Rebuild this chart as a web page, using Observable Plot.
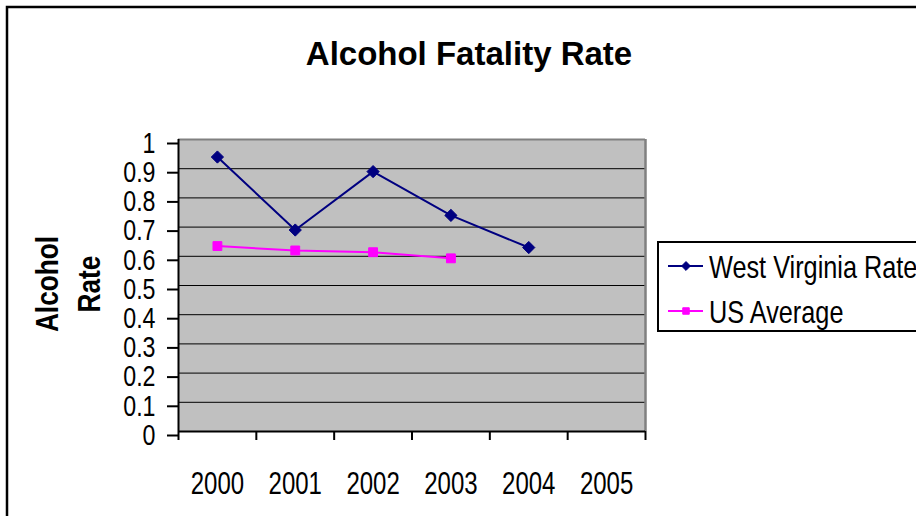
<!DOCTYPE html>
<html>
<head>
<meta charset="utf-8">
<script src="https://cdn.jsdelivr.net/npm/d3@7"></script>
<script src="https://cdn.jsdelivr.net/npm/@observablehq/plot@0.6"></script>
<style>
  html, body { margin: 0; padding: 0; background: white; }
  #chart { width: 916px; height: 516px; overflow: hidden; }
</style>
</head>
<body>
<div id="chart"></div>
<script>
// ---- data ----
const years = [2000, 2001, 2002, 2003, 2004, 2005];
const wvYears = [2000, 2001, 2002, 2003, 2004];
const wvRate = [0.94, 0.69, 0.89, 0.74, 0.63];
const usYears = [2000, 2001, 2002, 2003];
const usAverage = [0.635, 0.62, 0.614, 0.593];
const yTicks = [0, 0.1, 0.2, 0.3, 0.4, 0.5, 0.6, 0.7, 0.8, 0.9, 1];
const seriesNames = ["West Virginia Rate", "US Average"];
const seriesColors = ["#000080", "#ff00ff"];
const seriesSymbols = ["diamond2", "square"];
const titleText = "Alcohol Fatality Rate";
const yLabelLines = ["Alcohol", "Rate"];

// ---- derived tables ----
const wvData = wvYears.map((y, i) => ({year: y, value: wvRate[i]}));
const usData = usYears.map((y, i) => ({year: y, value: usAverage[i]}));
const xDomain = [years[0] - 0.5, years[years.length - 1] + 0.5];
const boundaries = [...years.map(y => y - 0.5), years[years.length - 1] + 0.5];
const gridTicks = yTicks.filter(t => t > 0 && t < 1);

const FONT = "'Liberation Sans', Arial, sans-serif";

function decorations(index, scales, values, dimensions) {
  const g = d3.create("svg:g");
  // outer chart border
  g.append("rect").attr("x", 7).attr("y", 7).attr("width", 1000).attr("height", 1000)
    .attr("fill", "none").attr("stroke", "black").attr("stroke-width", 2.5);
  // title
  g.append("text").attr("x", 469).attr("y", 65).attr("text-anchor", "middle")
    .attr("font-family", FONT).attr("font-weight", "bold").attr("font-size", 33)
    .attr("fill", "black").text(titleText);
  // y axis title
  const yPos = [58, 100];
  yLabelLines.forEach((t, i) => {
    g.append("text").attr("class", "squeeze-ylabel")
      .attr("transform", `translate(${yPos[i]},284) rotate(-90)`)
      .attr("text-anchor", "middle").attr("font-family", FONT)
      .attr("font-weight", "bold").attr("font-size", 32).attr("fill", "black").text(t);
  });
  // legend
  g.append("rect").attr("x", 658).attr("y", 242).attr("width", 300).attr("height", 89)
    .attr("fill", "white").attr("stroke", "black").attr("stroke-width", 2);
  const rowY = [266, 311];
  const symSize = [50, 42];
  const symTypes = [d3.symbolDiamond2, d3.symbolSquare];
  seriesNames.forEach((name, i) => {
    g.append("line").attr("x1", 668).attr("x2", 703).attr("y1", rowY[i]).attr("y2", rowY[i])
      .attr("stroke", seriesColors[i]).attr("stroke-width", 2);
    g.append("path").attr("d", d3.symbol(symTypes[i], symSize[i])())
      .attr("transform", `translate(686,${rowY[i]})`)
      .attr("fill", seriesColors[i]).attr("stroke", seriesColors[i]).attr("stroke-width", 1);
    g.append("text").attr("class", "squeeze-legend").attr("x", 709).attr("y", rowY[i] + 12)
      .attr("text-anchor", "start")
      .attr("font-family", FONT).attr("font-size", 32).attr("fill", "black").text(name);
  });
  return g.node();
}

const chart = Plot.plot({
  width: 916,
  height: 516,
  marginLeft: 178,
  marginRight: 271,
  marginTop: 139,
  marginBottom: 85,
  x: {type: "linear", domain: xDomain},
  y: {domain: [0, 1]},
  style: {fontFamily: FONT, fontSize: "30px", background: "white", color: "black", overflow: "hidden"},
  marks: [
    Plot.frame({fill: "#c0c0c0", stroke: null}),
    Plot.ruleY(gridTicks, {stroke: "black", strokeWidth: 1}),
    Plot.ruleY([yTicks[yTicks.length - 1]], {stroke: "#808080", strokeWidth: 2}),
    Plot.ruleX([xDomain[1]], {stroke: "#808080", strokeWidth: 2.5}),
    Plot.ruleX([xDomain[0]], {stroke: "black", strokeWidth: 2}),
    Plot.ruleY([yTicks[0]], {stroke: "black", strokeWidth: 2}),
    Plot.axisY({ticks: yTicks, tickFormat: d => String(d), tickSize: 11, tickPadding: 12,
      strokeWidth: 2, fontSize: 29, dy: 4, label: null}),
    Plot.axisX({ticks: boundaries, tickFormat: () => "", tickSize: 9, strokeWidth: 2, label: null}),
    Plot.axisX({ticks: years, tickFormat: d => String(d), tickSize: 0, tickPadding: 40,
      fontSize: 32, label: null}),
    Plot.line(wvData, {x: "year", y: "value", stroke: seriesColors[0], strokeWidth: 2}),
    Plot.line(usData, {x: "year", y: "value", stroke: seriesColors[1], strokeWidth: 2}),
    Plot.dot(wvData, {x: "year", y: "value", symbol: seriesSymbols[0], r: 5.5,
      fill: seriesColors[0], stroke: seriesColors[0], strokeWidth: 1}),
    Plot.dot(usData, {x: "year", y: "value", symbol: seriesSymbols[1], r: 5,
      fill: seriesColors[1], stroke: seriesColors[1], strokeWidth: 1}),
    decorations
  ]
});
document.getElementById("chart").appendChild(chart);

// condense text horizontally to mimic the narrow face of the original
function squeeze(selector, factor) {
  chart.querySelectorAll(selector).forEach(el => {
    const len = el.getComputedTextLength();
    if (len > 0) {
      el.setAttribute("textLength", (len * factor).toFixed(2));
      el.setAttribute("lengthAdjust", "spacingAndGlyphs");
    }
  });
}
squeeze('g[aria-label="y-axis tick label"] text', 0.8);
squeeze('g[aria-label="x-axis tick label"] text', 0.75);
squeeze('text.squeeze-legend', 0.79);
squeeze('text.squeeze-ylabel', 0.82);
</script>
</body>
</html>
